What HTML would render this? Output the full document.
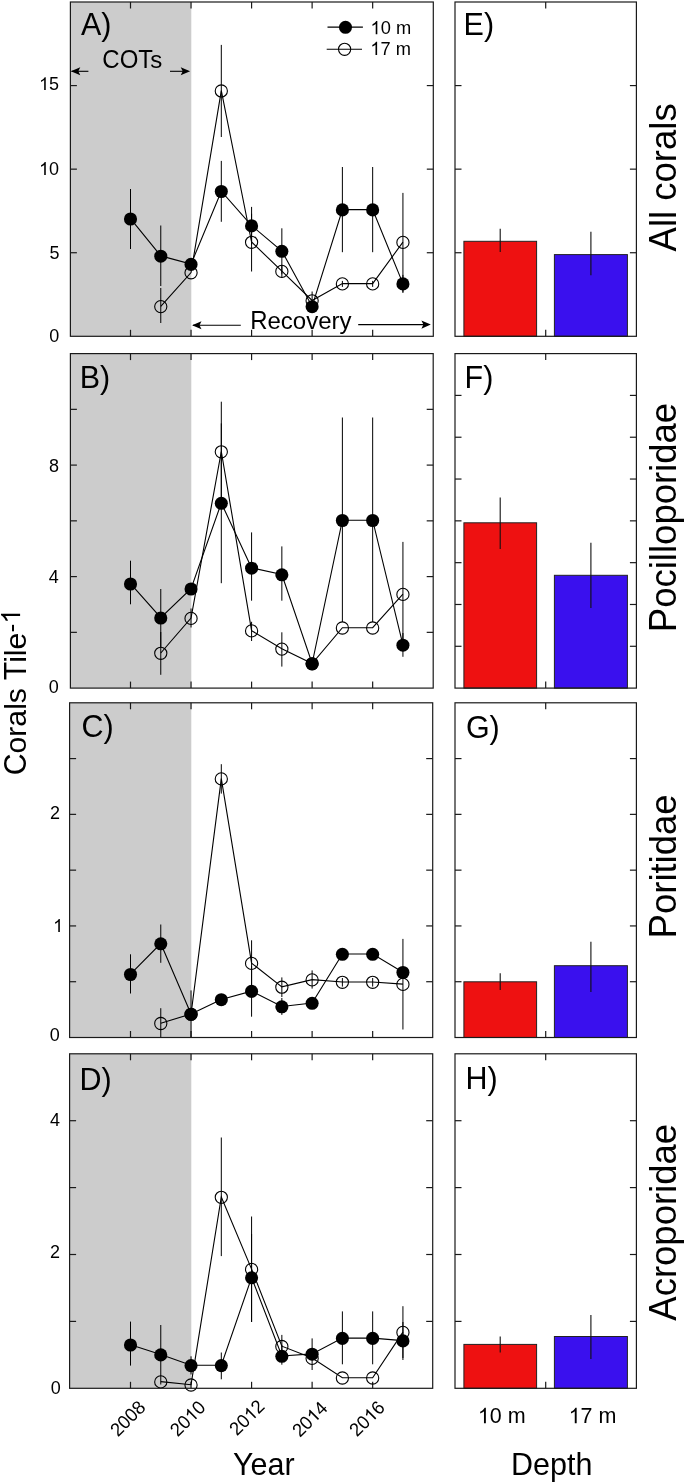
<!DOCTYPE html><html><head><meta charset="utf-8"><style>html,body{margin:0;padding:0;background:#fff;}svg{display:block;will-change:transform;} text{font-family:"Liberation Sans",sans-serif;fill:#000;font-kerning:none;}</style></head><body>
<svg width="685" height="1483" viewBox="0 0 685 1483">
<rect x="0" y="0" width="685" height="1483" fill="#fff"/>
<defs><path id="ah" d="M0,0 L9.4,-4.05 L7.4,0 L9.4,4.05 Z" fill="#000"/></defs>
<rect x="70.4" y="2" width="120.9" height="334.3" fill="#cccccc"/>
<line x1="70.4" y1="252.73" x2="76.9" y2="252.73" stroke="#1a1a1a" stroke-width="1.2"/>
<line x1="433.3" y1="252.73" x2="426.8" y2="252.73" stroke="#1a1a1a" stroke-width="1.2"/>
<line x1="70.4" y1="169.15" x2="76.9" y2="169.15" stroke="#1a1a1a" stroke-width="1.2"/>
<line x1="433.3" y1="169.15" x2="426.8" y2="169.15" stroke="#1a1a1a" stroke-width="1.2"/>
<line x1="70.4" y1="85.58" x2="76.9" y2="85.58" stroke="#1a1a1a" stroke-width="1.2"/>
<line x1="433.3" y1="85.58" x2="426.8" y2="85.58" stroke="#1a1a1a" stroke-width="1.2"/>
<g transform="translate(59.2,342.4)"><text transform="translate(-10.011,0) scale(1,1.035)" font-size="18">0</text></g>
<g transform="translate(59.4,258.8)"><text transform="translate(-10.011,0) scale(1,1.035)" font-size="18">5</text></g>
<g transform="translate(59.1,175)"><path d="M763 0H583V1147Q518 1085 412.5 1023T223 930V1104Q374 1175 487 1276T647 1472H763V0Z" transform="translate(-20.021,0) scale(0.008789,-0.008789)"/><text transform="translate(-10.011,0) scale(1,1.035)" font-size="18">0</text></g>
<g transform="translate(59.06,90.1)"><path d="M763 0H583V1147Q518 1085 412.5 1023T223 930V1104Q374 1175 487 1276T647 1472H763V0Z" transform="translate(-20.021,0) scale(0.008789,-0.008789)"/><text transform="translate(-10.011,0) scale(1,1.035)" font-size="18">5</text></g>
<line x1="130.5" y1="2" x2="130.5" y2="8.5" stroke="#1a1a1a" stroke-width="1.2"/>
<line x1="130.5" y1="336.3" x2="130.5" y2="329.8" stroke="#1a1a1a" stroke-width="1.2"/>
<line x1="191.04" y1="2" x2="191.04" y2="8.5" stroke="#1a1a1a" stroke-width="1.2"/>
<line x1="191.04" y1="336.3" x2="191.04" y2="329.8" stroke="#1a1a1a" stroke-width="1.2"/>
<line x1="251.58" y1="2" x2="251.58" y2="8.5" stroke="#1a1a1a" stroke-width="1.2"/>
<line x1="251.58" y1="336.3" x2="251.58" y2="329.8" stroke="#1a1a1a" stroke-width="1.2"/>
<line x1="312.12" y1="2" x2="312.12" y2="8.5" stroke="#1a1a1a" stroke-width="1.2"/>
<line x1="312.12" y1="336.3" x2="312.12" y2="329.8" stroke="#1a1a1a" stroke-width="1.2"/>
<line x1="372.66" y1="2" x2="372.66" y2="8.5" stroke="#1a1a1a" stroke-width="1.2"/>
<line x1="372.66" y1="336.3" x2="372.66" y2="329.8" stroke="#1a1a1a" stroke-width="1.2"/>
<line x1="160.77" y1="288" x2="160.77" y2="323" stroke="#000" stroke-width="1.0"/>
<line x1="221.31" y1="44.9" x2="221.31" y2="137" stroke="#000" stroke-width="1.0"/>
<line x1="251.58" y1="213.7" x2="251.58" y2="271.5" stroke="#000" stroke-width="1.0"/>
<line x1="281.85" y1="264.9" x2="281.85" y2="277.9" stroke="#000" stroke-width="1.0"/>
<line x1="312.12" y1="291.5" x2="312.12" y2="307" stroke="#000" stroke-width="1.0"/>
<line x1="342.39" y1="280.9" x2="342.39" y2="286.9" stroke="#000" stroke-width="1.0"/>
<line x1="372.66" y1="280.9" x2="372.66" y2="286.9" stroke="#000" stroke-width="1.0"/>
<line x1="402.93" y1="192.9" x2="402.93" y2="291.9" stroke="#000" stroke-width="1.0"/>
<line x1="130.5" y1="189" x2="130.5" y2="249" stroke="#000" stroke-width="1.0"/>
<line x1="160.77" y1="225.5" x2="160.77" y2="286" stroke="#000" stroke-width="1.0"/>
<line x1="221.31" y1="160.9" x2="221.31" y2="221.8" stroke="#000" stroke-width="1.0"/>
<line x1="251.58" y1="206.9" x2="251.58" y2="244.9" stroke="#000" stroke-width="1.0"/>
<line x1="281.85" y1="228.3" x2="281.85" y2="274.3" stroke="#000" stroke-width="1.0"/>
<line x1="342.39" y1="167" x2="342.39" y2="252.2" stroke="#000" stroke-width="1.0"/>
<line x1="372.66" y1="167" x2="372.66" y2="252.2" stroke="#000" stroke-width="1.0"/>
<line x1="402.93" y1="274.9" x2="402.93" y2="293" stroke="#000" stroke-width="1.0"/>
<polyline points="160.77,306.3 191.04,272.5 221.31,90.65 251.58,242 281.85,271.1 312.12,300.5 342.39,283.6 372.66,283.6 402.93,242.1" fill="none" stroke="#000" stroke-width="1.1"/>
<polyline points="130.5,218.7 160.77,255.9 191.04,264.1 221.31,191.2 251.58,225.6 281.85,251 312.12,306.4 342.39,209.6 372.66,209.6 402.93,283.6" fill="none" stroke="#000" stroke-width="1.1"/>
<circle cx="160.77" cy="306.6" r="6.1" fill="none" stroke="#000" stroke-width="1.1"/>
<circle cx="191.04" cy="272.8" r="6.1" fill="none" stroke="#000" stroke-width="1.1"/>
<circle cx="221.31" cy="90.95" r="6.1" fill="none" stroke="#000" stroke-width="1.1"/>
<circle cx="251.58" cy="242.3" r="6.1" fill="none" stroke="#000" stroke-width="1.1"/>
<circle cx="281.85" cy="271.4" r="6.1" fill="none" stroke="#000" stroke-width="1.1"/>
<circle cx="312.12" cy="300.8" r="6.1" fill="none" stroke="#000" stroke-width="1.1"/>
<circle cx="342.39" cy="283.9" r="6.1" fill="none" stroke="#000" stroke-width="1.1"/>
<circle cx="372.66" cy="283.9" r="6.1" fill="none" stroke="#000" stroke-width="1.1"/>
<circle cx="402.93" cy="242.4" r="6.1" fill="none" stroke="#000" stroke-width="1.1"/>
<circle cx="130.5" cy="219" r="6.55" fill="#000"/>
<circle cx="160.77" cy="256.2" r="6.55" fill="#000"/>
<circle cx="191.04" cy="264.4" r="6.55" fill="#000"/>
<circle cx="221.31" cy="191.5" r="6.55" fill="#000"/>
<circle cx="251.58" cy="225.9" r="6.55" fill="#000"/>
<circle cx="281.85" cy="251.3" r="6.55" fill="#000"/>
<circle cx="312.12" cy="306.7" r="6.55" fill="#000"/>
<circle cx="342.39" cy="209.9" r="6.55" fill="#000"/>
<circle cx="372.66" cy="209.9" r="6.55" fill="#000"/>
<circle cx="402.93" cy="283.9" r="6.55" fill="#000"/>
<rect x="70.4" y="2" width="362.9" height="334.3" fill="none" stroke="#1a1a1a" stroke-width="1.2"/>
<g transform="translate(80.9,34.8)"><text transform="translate(0.000,0) scale(1,1.0405)" font-size="30.5">A</text><text x="20.343" y="0" font-size="30.5">)</text></g>
<line x1="455" y1="252.73" x2="461.5" y2="252.73" stroke="#1a1a1a" stroke-width="1.2"/>
<line x1="636.4" y1="252.73" x2="629.9" y2="252.73" stroke="#1a1a1a" stroke-width="1.2"/>
<line x1="455" y1="169.15" x2="461.5" y2="169.15" stroke="#1a1a1a" stroke-width="1.2"/>
<line x1="636.4" y1="169.15" x2="629.9" y2="169.15" stroke="#1a1a1a" stroke-width="1.2"/>
<line x1="455" y1="85.58" x2="461.5" y2="85.58" stroke="#1a1a1a" stroke-width="1.2"/>
<line x1="636.4" y1="85.58" x2="629.9" y2="85.58" stroke="#1a1a1a" stroke-width="1.2"/>
<line x1="545.7" y1="2" x2="545.7" y2="8.5" stroke="#1a1a1a" stroke-width="1.2"/>
<line x1="545.7" y1="336.3" x2="545.7" y2="329.8" stroke="#1a1a1a" stroke-width="1.2"/>
<rect x="463.9" y="241.3" width="72.7" height="95" fill="#ee1111" stroke="#222" stroke-width="1"/>
<rect x="554.4" y="254.6" width="73.0" height="81.7" fill="#3a10ee" stroke="#222" stroke-width="1"/>
<line x1="500.2" y1="228.8" x2="500.2" y2="252" stroke="#111" stroke-width="1.1"/>
<line x1="590.9" y1="231.7" x2="590.9" y2="275.3" stroke="#111" stroke-width="1.1"/>
<rect x="455" y="2" width="181.4" height="334.3" fill="none" stroke="#1a1a1a" stroke-width="1.2"/>
<g transform="translate(463.6,34.8)"><text transform="translate(0.000,0) scale(1,1.0405)" font-size="30.5">E</text><text x="20.343" y="0" font-size="30.5">)</text></g>
<g transform="translate(676.1,177.4) rotate(-90)"><text transform="translate(-74.034,0) scale(1,1.0405)" font-size="36.5">A</text><text x="-49.688" y="0" font-size="36.5">l</text><text x="-41.579" y="0" font-size="36.5">l</text><text x="-23.329" y="0" font-size="36.5">c</text><text x="-5.079" y="0" font-size="36.5">o</text><text x="15.220" y="0" font-size="36.5">r</text><text x="27.375" y="0" font-size="36.5">a</text><text x="47.675" y="0" font-size="36.5">l</text><text x="55.784" y="0" font-size="36.5">s</text></g>
<rect x="70.4" y="353.6" width="120.9" height="334.5" fill="#cccccc"/>
<line x1="70.4" y1="576.6" x2="76.9" y2="576.6" stroke="#1a1a1a" stroke-width="1.2"/>
<line x1="433.2" y1="576.6" x2="426.7" y2="576.6" stroke="#1a1a1a" stroke-width="1.2"/>
<line x1="70.4" y1="465.1" x2="76.9" y2="465.1" stroke="#1a1a1a" stroke-width="1.2"/>
<line x1="433.2" y1="465.1" x2="426.7" y2="465.1" stroke="#1a1a1a" stroke-width="1.2"/>
<line x1="70.4" y1="632.35" x2="76.9" y2="632.35" stroke="#1a1a1a" stroke-width="1.2"/>
<line x1="433.2" y1="632.35" x2="426.7" y2="632.35" stroke="#1a1a1a" stroke-width="1.2"/>
<line x1="70.4" y1="520.85" x2="76.9" y2="520.85" stroke="#1a1a1a" stroke-width="1.2"/>
<line x1="433.2" y1="520.85" x2="426.7" y2="520.85" stroke="#1a1a1a" stroke-width="1.2"/>
<line x1="70.4" y1="409.35" x2="76.9" y2="409.35" stroke="#1a1a1a" stroke-width="1.2"/>
<line x1="433.2" y1="409.35" x2="426.7" y2="409.35" stroke="#1a1a1a" stroke-width="1.2"/>
<g transform="translate(58.8,692.7)"><text transform="translate(-10.011,0) scale(1,1.035)" font-size="18">0</text></g>
<g transform="translate(58.7,583.4)"><text transform="translate(-10.011,0) scale(1,1.035)" font-size="18">4</text></g>
<g transform="translate(59,471.5)"><text transform="translate(-10.011,0) scale(1,1.035)" font-size="18">8</text></g>
<line x1="130.5" y1="353.6" x2="130.5" y2="360.1" stroke="#1a1a1a" stroke-width="1.2"/>
<line x1="130.5" y1="688.1" x2="130.5" y2="681.6" stroke="#1a1a1a" stroke-width="1.2"/>
<line x1="191.04" y1="353.6" x2="191.04" y2="360.1" stroke="#1a1a1a" stroke-width="1.2"/>
<line x1="191.04" y1="688.1" x2="191.04" y2="681.6" stroke="#1a1a1a" stroke-width="1.2"/>
<line x1="251.58" y1="353.6" x2="251.58" y2="360.1" stroke="#1a1a1a" stroke-width="1.2"/>
<line x1="251.58" y1="688.1" x2="251.58" y2="681.6" stroke="#1a1a1a" stroke-width="1.2"/>
<line x1="312.12" y1="353.6" x2="312.12" y2="360.1" stroke="#1a1a1a" stroke-width="1.2"/>
<line x1="312.12" y1="688.1" x2="312.12" y2="681.6" stroke="#1a1a1a" stroke-width="1.2"/>
<line x1="372.66" y1="353.6" x2="372.66" y2="360.1" stroke="#1a1a1a" stroke-width="1.2"/>
<line x1="372.66" y1="688.1" x2="372.66" y2="681.6" stroke="#1a1a1a" stroke-width="1.2"/>
<line x1="160.77" y1="632" x2="160.77" y2="674.8" stroke="#000" stroke-width="1.0"/>
<line x1="191.04" y1="608.5" x2="191.04" y2="627.5" stroke="#000" stroke-width="1.0"/>
<line x1="221.31" y1="401.7" x2="221.31" y2="502" stroke="#000" stroke-width="1.0"/>
<line x1="251.58" y1="621.8" x2="251.58" y2="641" stroke="#000" stroke-width="1.0"/>
<line x1="281.85" y1="632.3" x2="281.85" y2="666.6" stroke="#000" stroke-width="1.0"/>
<line x1="402.93" y1="541.9" x2="402.93" y2="647" stroke="#000" stroke-width="1.0"/>
<line x1="130.5" y1="560.7" x2="130.5" y2="604.3" stroke="#000" stroke-width="1.0"/>
<line x1="160.77" y1="589" x2="160.77" y2="647" stroke="#000" stroke-width="1.0"/>
<line x1="221.31" y1="423.4" x2="221.31" y2="583.2" stroke="#000" stroke-width="1.0"/>
<line x1="251.58" y1="532.4" x2="251.58" y2="600.7" stroke="#000" stroke-width="1.0"/>
<line x1="281.85" y1="546.4" x2="281.85" y2="600.7" stroke="#000" stroke-width="1.0"/>
<line x1="342.39" y1="417.5" x2="342.39" y2="622" stroke="#000" stroke-width="1.0"/>
<line x1="372.66" y1="417.5" x2="372.66" y2="622" stroke="#000" stroke-width="1.0"/>
<line x1="402.93" y1="633" x2="402.93" y2="656.8" stroke="#000" stroke-width="1.0"/>
<polyline points="160.77,653 191.04,618.1 221.31,451.5 251.58,630.6 281.85,648.8 312.12,663.5 342.39,627.7 372.66,627.7 402.93,594.1" fill="none" stroke="#000" stroke-width="1.1"/>
<polyline points="130.5,583.7 160.77,617.7 191.04,588.7 221.31,503 251.58,567.9 281.85,574.5 312.12,663.5 342.39,520.2 372.66,520.2 402.93,644.9" fill="none" stroke="#000" stroke-width="1.1"/>
<circle cx="160.77" cy="653.3" r="6.1" fill="none" stroke="#000" stroke-width="1.1"/>
<circle cx="191.04" cy="618.4" r="6.1" fill="none" stroke="#000" stroke-width="1.1"/>
<circle cx="221.31" cy="451.8" r="6.1" fill="none" stroke="#000" stroke-width="1.1"/>
<circle cx="251.58" cy="630.9" r="6.1" fill="none" stroke="#000" stroke-width="1.1"/>
<circle cx="281.85" cy="649.1" r="6.1" fill="none" stroke="#000" stroke-width="1.1"/>
<circle cx="312.12" cy="663.8" r="6.1" fill="none" stroke="#000" stroke-width="1.1"/>
<circle cx="342.39" cy="628" r="6.1" fill="none" stroke="#000" stroke-width="1.1"/>
<circle cx="372.66" cy="628" r="6.1" fill="none" stroke="#000" stroke-width="1.1"/>
<circle cx="402.93" cy="594.4" r="6.1" fill="none" stroke="#000" stroke-width="1.1"/>
<circle cx="130.5" cy="584" r="6.55" fill="#000"/>
<circle cx="160.77" cy="618" r="6.55" fill="#000"/>
<circle cx="191.04" cy="589" r="6.55" fill="#000"/>
<circle cx="221.31" cy="503.3" r="6.55" fill="#000"/>
<circle cx="251.58" cy="568.2" r="6.55" fill="#000"/>
<circle cx="281.85" cy="574.8" r="6.55" fill="#000"/>
<circle cx="312.12" cy="663.8" r="6.55" fill="#000"/>
<circle cx="342.39" cy="520.5" r="6.55" fill="#000"/>
<circle cx="372.66" cy="520.5" r="6.55" fill="#000"/>
<circle cx="402.93" cy="645.2" r="6.55" fill="#000"/>
<rect x="70.4" y="353.6" width="362.8" height="334.5" fill="none" stroke="#1a1a1a" stroke-width="1.2"/>
<g transform="translate(79.7,387.9)"><text transform="translate(0.000,0) scale(1,1.0405)" font-size="30.5">B</text><text x="20.343" y="0" font-size="30.5">)</text></g>
<line x1="455" y1="646.29" x2="461.5" y2="646.29" stroke="#1a1a1a" stroke-width="1.2"/>
<line x1="636.4" y1="646.29" x2="629.9" y2="646.29" stroke="#1a1a1a" stroke-width="1.2"/>
<line x1="455" y1="604.48" x2="461.5" y2="604.48" stroke="#1a1a1a" stroke-width="1.2"/>
<line x1="636.4" y1="604.48" x2="629.9" y2="604.48" stroke="#1a1a1a" stroke-width="1.2"/>
<line x1="455" y1="562.66" x2="461.5" y2="562.66" stroke="#1a1a1a" stroke-width="1.2"/>
<line x1="636.4" y1="562.66" x2="629.9" y2="562.66" stroke="#1a1a1a" stroke-width="1.2"/>
<line x1="455" y1="520.85" x2="461.5" y2="520.85" stroke="#1a1a1a" stroke-width="1.2"/>
<line x1="636.4" y1="520.85" x2="629.9" y2="520.85" stroke="#1a1a1a" stroke-width="1.2"/>
<line x1="455" y1="479.04" x2="461.5" y2="479.04" stroke="#1a1a1a" stroke-width="1.2"/>
<line x1="636.4" y1="479.04" x2="629.9" y2="479.04" stroke="#1a1a1a" stroke-width="1.2"/>
<line x1="455" y1="437.23" x2="461.5" y2="437.23" stroke="#1a1a1a" stroke-width="1.2"/>
<line x1="636.4" y1="437.23" x2="629.9" y2="437.23" stroke="#1a1a1a" stroke-width="1.2"/>
<line x1="455" y1="395.41" x2="461.5" y2="395.41" stroke="#1a1a1a" stroke-width="1.2"/>
<line x1="636.4" y1="395.41" x2="629.9" y2="395.41" stroke="#1a1a1a" stroke-width="1.2"/>
<line x1="545.7" y1="353.6" x2="545.7" y2="360.1" stroke="#1a1a1a" stroke-width="1.2"/>
<line x1="545.7" y1="688.1" x2="545.7" y2="681.6" stroke="#1a1a1a" stroke-width="1.2"/>
<rect x="463.9" y="522.8" width="72.7" height="165.3" fill="#ee1111" stroke="#222" stroke-width="1"/>
<rect x="554.4" y="575.3" width="73.0" height="112.8" fill="#3a10ee" stroke="#222" stroke-width="1"/>
<line x1="500.2" y1="497.4" x2="500.2" y2="548.9" stroke="#111" stroke-width="1.1"/>
<line x1="590.9" y1="542.8" x2="590.9" y2="607.9" stroke="#111" stroke-width="1.1"/>
<rect x="455" y="353.6" width="181.4" height="334.5" fill="none" stroke="#1a1a1a" stroke-width="1.2"/>
<g transform="translate(464.5,387.8)"><text transform="translate(0.000,0) scale(1,1.0405)" font-size="30.5">F</text><text x="18.631" y="0" font-size="30.5">)</text></g>
<g transform="translate(676.1,517.5) rotate(-90)"><text transform="translate(-114.642,0) scale(1,1.0405)" font-size="36.5">P</text><text x="-90.297" y="0" font-size="36.5">o</text><text x="-69.997" y="0" font-size="36.5">c</text><text x="-51.747" y="0" font-size="36.5">i</text><text x="-43.638" y="0" font-size="36.5">l</text><text x="-35.529" y="0" font-size="36.5">l</text><text x="-27.420" y="0" font-size="36.5">o</text><text x="-7.120" y="0" font-size="36.5">p</text><text x="13.180" y="0" font-size="36.5">o</text><text x="33.479" y="0" font-size="36.5">r</text><text x="45.634" y="0" font-size="36.5">i</text><text x="53.743" y="0" font-size="36.5">d</text><text x="74.043" y="0" font-size="36.5">a</text><text x="94.342" y="0" font-size="36.5">e</text></g>
<rect x="69.6" y="702.8" width="121.7" height="334.7" fill="#cccccc"/>
<line x1="69.6" y1="925.93" x2="76.1" y2="925.93" stroke="#1a1a1a" stroke-width="1.2"/>
<line x1="432.7" y1="925.93" x2="426.2" y2="925.93" stroke="#1a1a1a" stroke-width="1.2"/>
<line x1="69.6" y1="814.37" x2="76.1" y2="814.37" stroke="#1a1a1a" stroke-width="1.2"/>
<line x1="432.7" y1="814.37" x2="426.2" y2="814.37" stroke="#1a1a1a" stroke-width="1.2"/>
<line x1="69.6" y1="981.72" x2="76.1" y2="981.72" stroke="#1a1a1a" stroke-width="1.2"/>
<line x1="432.7" y1="981.72" x2="426.2" y2="981.72" stroke="#1a1a1a" stroke-width="1.2"/>
<line x1="69.6" y1="870.15" x2="76.1" y2="870.15" stroke="#1a1a1a" stroke-width="1.2"/>
<line x1="432.7" y1="870.15" x2="426.2" y2="870.15" stroke="#1a1a1a" stroke-width="1.2"/>
<line x1="69.6" y1="758.58" x2="76.1" y2="758.58" stroke="#1a1a1a" stroke-width="1.2"/>
<line x1="432.7" y1="758.58" x2="426.2" y2="758.58" stroke="#1a1a1a" stroke-width="1.2"/>
<g transform="translate(59.7,1041.4)"><text transform="translate(-10.011,0) scale(1,1.035)" font-size="18">0</text></g>
<g transform="translate(63.15,931.9)"><path d="M763 0H583V1147Q518 1085 412.5 1023T223 930V1104Q374 1175 487 1276T647 1472H763V0Z" transform="translate(-10.011,0) scale(0.008789,-0.008789)"/></g>
<g transform="translate(59.9,818.9)"><text transform="translate(-10.011,0) scale(1,1.035)" font-size="18">2</text></g>
<line x1="130.5" y1="702.8" x2="130.5" y2="709.3" stroke="#1a1a1a" stroke-width="1.2"/>
<line x1="130.5" y1="1037.5" x2="130.5" y2="1031" stroke="#1a1a1a" stroke-width="1.2"/>
<line x1="191.04" y1="702.8" x2="191.04" y2="709.3" stroke="#1a1a1a" stroke-width="1.2"/>
<line x1="191.04" y1="1037.5" x2="191.04" y2="1031" stroke="#1a1a1a" stroke-width="1.2"/>
<line x1="251.58" y1="702.8" x2="251.58" y2="709.3" stroke="#1a1a1a" stroke-width="1.2"/>
<line x1="251.58" y1="1037.5" x2="251.58" y2="1031" stroke="#1a1a1a" stroke-width="1.2"/>
<line x1="312.12" y1="702.8" x2="312.12" y2="709.3" stroke="#1a1a1a" stroke-width="1.2"/>
<line x1="312.12" y1="1037.5" x2="312.12" y2="1031" stroke="#1a1a1a" stroke-width="1.2"/>
<line x1="372.66" y1="702.8" x2="372.66" y2="709.3" stroke="#1a1a1a" stroke-width="1.2"/>
<line x1="372.66" y1="1037.5" x2="372.66" y2="1031" stroke="#1a1a1a" stroke-width="1.2"/>
<line x1="160.77" y1="1008.2" x2="160.77" y2="1038" stroke="#000" stroke-width="1.0"/>
<line x1="221.31" y1="764.2" x2="221.31" y2="793.6" stroke="#000" stroke-width="1.0"/>
<line x1="251.58" y1="940.3" x2="251.58" y2="986.5" stroke="#000" stroke-width="1.0"/>
<line x1="281.85" y1="977.4" x2="281.85" y2="997" stroke="#000" stroke-width="1.0"/>
<line x1="312.12" y1="970.4" x2="312.12" y2="988.6" stroke="#000" stroke-width="1.0"/>
<line x1="342.39" y1="978" x2="342.39" y2="986.6" stroke="#000" stroke-width="1.0"/>
<line x1="372.66" y1="978" x2="372.66" y2="986.6" stroke="#000" stroke-width="1.0"/>
<line x1="402.93" y1="938.9" x2="402.93" y2="1029.5" stroke="#000" stroke-width="1.0"/>
<line x1="130.5" y1="954.3" x2="130.5" y2="993.5" stroke="#000" stroke-width="1.0"/>
<line x1="160.77" y1="924.5" x2="160.77" y2="962.8" stroke="#000" stroke-width="1.0"/>
<line x1="191.04" y1="990.4" x2="191.04" y2="1038" stroke="#000" stroke-width="1.0"/>
<line x1="251.58" y1="966" x2="251.58" y2="1016.7" stroke="#000" stroke-width="1.0"/>
<line x1="281.85" y1="998" x2="281.85" y2="1014.9" stroke="#000" stroke-width="1.0"/>
<polyline points="160.77,1023.2 191.04,1014 221.31,778.6 251.58,963.1 281.85,986.9 312.12,979.6 342.39,982 372.66,982 402.93,984.1" fill="none" stroke="#000" stroke-width="1.1"/>
<polyline points="130.5,974.2 160.77,943.5 191.04,1014 221.31,999.4 251.58,991.1 281.85,1006.5 312.12,1003 342.39,954 372.66,954 402.93,972.2" fill="none" stroke="#000" stroke-width="1.1"/>
<circle cx="160.77" cy="1023.5" r="6.1" fill="none" stroke="#000" stroke-width="1.1"/>
<circle cx="191.04" cy="1014.3" r="6.1" fill="none" stroke="#000" stroke-width="1.1"/>
<circle cx="221.31" cy="778.9" r="6.1" fill="none" stroke="#000" stroke-width="1.1"/>
<circle cx="251.58" cy="963.4" r="6.1" fill="none" stroke="#000" stroke-width="1.1"/>
<circle cx="281.85" cy="987.2" r="6.1" fill="none" stroke="#000" stroke-width="1.1"/>
<circle cx="312.12" cy="979.9" r="6.1" fill="none" stroke="#000" stroke-width="1.1"/>
<circle cx="342.39" cy="982.3" r="6.1" fill="none" stroke="#000" stroke-width="1.1"/>
<circle cx="372.66" cy="982.3" r="6.1" fill="none" stroke="#000" stroke-width="1.1"/>
<circle cx="402.93" cy="984.4" r="6.1" fill="none" stroke="#000" stroke-width="1.1"/>
<circle cx="130.5" cy="974.5" r="6.55" fill="#000"/>
<circle cx="160.77" cy="943.8" r="6.55" fill="#000"/>
<circle cx="191.04" cy="1014.3" r="6.55" fill="#000"/>
<circle cx="221.31" cy="999.7" r="6.55" fill="#000"/>
<circle cx="251.58" cy="991.4" r="6.55" fill="#000"/>
<circle cx="281.85" cy="1006.8" r="6.55" fill="#000"/>
<circle cx="312.12" cy="1003.3" r="6.55" fill="#000"/>
<circle cx="342.39" cy="954.3" r="6.55" fill="#000"/>
<circle cx="372.66" cy="954.3" r="6.55" fill="#000"/>
<circle cx="402.93" cy="972.5" r="6.55" fill="#000"/>
<rect x="69.6" y="702.8" width="363.1" height="334.7" fill="none" stroke="#1a1a1a" stroke-width="1.2"/>
<g transform="translate(81.4,737.3)"><text transform="translate(0.000,0) scale(1,1.0405)" font-size="30.5">C</text><text x="22.026" y="0" font-size="30.5">)</text></g>
<line x1="455" y1="981.72" x2="461.5" y2="981.72" stroke="#1a1a1a" stroke-width="1.2"/>
<line x1="636.4" y1="981.72" x2="629.9" y2="981.72" stroke="#1a1a1a" stroke-width="1.2"/>
<line x1="455" y1="925.93" x2="461.5" y2="925.93" stroke="#1a1a1a" stroke-width="1.2"/>
<line x1="636.4" y1="925.93" x2="629.9" y2="925.93" stroke="#1a1a1a" stroke-width="1.2"/>
<line x1="455" y1="870.15" x2="461.5" y2="870.15" stroke="#1a1a1a" stroke-width="1.2"/>
<line x1="636.4" y1="870.15" x2="629.9" y2="870.15" stroke="#1a1a1a" stroke-width="1.2"/>
<line x1="455" y1="814.37" x2="461.5" y2="814.37" stroke="#1a1a1a" stroke-width="1.2"/>
<line x1="636.4" y1="814.37" x2="629.9" y2="814.37" stroke="#1a1a1a" stroke-width="1.2"/>
<line x1="455" y1="758.58" x2="461.5" y2="758.58" stroke="#1a1a1a" stroke-width="1.2"/>
<line x1="636.4" y1="758.58" x2="629.9" y2="758.58" stroke="#1a1a1a" stroke-width="1.2"/>
<line x1="545.7" y1="702.8" x2="545.7" y2="709.3" stroke="#1a1a1a" stroke-width="1.2"/>
<line x1="545.7" y1="1037.5" x2="545.7" y2="1031" stroke="#1a1a1a" stroke-width="1.2"/>
<rect x="463.9" y="981.8" width="72.7" height="55.7" fill="#ee1111" stroke="#222" stroke-width="1"/>
<rect x="554.4" y="965.7" width="73.0" height="71.8" fill="#3a10ee" stroke="#222" stroke-width="1"/>
<line x1="500.2" y1="973.3" x2="500.2" y2="990" stroke="#111" stroke-width="1.1"/>
<line x1="590.9" y1="941.8" x2="590.9" y2="991.9" stroke="#111" stroke-width="1.1"/>
<rect x="455" y="702.8" width="181.4" height="334.7" fill="none" stroke="#1a1a1a" stroke-width="1.2"/>
<g transform="translate(465.9,737.6)"><text transform="translate(0.000,0) scale(1,1.0405)" font-size="30.5">G</text><text x="23.724" y="0" font-size="30.5">)</text></g>
<g transform="translate(676.1,866.4) rotate(-90)"><text transform="translate(-72.029,0) scale(1,1.0405)" font-size="36.5">P</text><text x="-47.683" y="0" font-size="36.5">o</text><text x="-27.384" y="0" font-size="36.5">r</text><text x="-15.229" y="0" font-size="36.5">i</text><text x="-7.120" y="0" font-size="36.5">t</text><text x="3.021" y="0" font-size="36.5">i</text><text x="11.130" y="0" font-size="36.5">d</text><text x="31.430" y="0" font-size="36.5">a</text><text x="51.729" y="0" font-size="36.5">e</text></g>
<rect x="69.6" y="1053.8" width="121.7" height="334.5" fill="#cccccc"/>
<line x1="69.6" y1="1254.5" x2="76.1" y2="1254.5" stroke="#1a1a1a" stroke-width="1.2"/>
<line x1="432.7" y1="1254.5" x2="426.2" y2="1254.5" stroke="#1a1a1a" stroke-width="1.2"/>
<line x1="69.6" y1="1120.7" x2="76.1" y2="1120.7" stroke="#1a1a1a" stroke-width="1.2"/>
<line x1="432.7" y1="1120.7" x2="426.2" y2="1120.7" stroke="#1a1a1a" stroke-width="1.2"/>
<line x1="69.6" y1="1321.4" x2="76.1" y2="1321.4" stroke="#1a1a1a" stroke-width="1.2"/>
<line x1="432.7" y1="1321.4" x2="426.2" y2="1321.4" stroke="#1a1a1a" stroke-width="1.2"/>
<line x1="69.6" y1="1187.6" x2="76.1" y2="1187.6" stroke="#1a1a1a" stroke-width="1.2"/>
<line x1="432.7" y1="1187.6" x2="426.2" y2="1187.6" stroke="#1a1a1a" stroke-width="1.2"/>
<g transform="translate(60.8,1393.9)"><text transform="translate(-10.011,0) scale(1,1.035)" font-size="18">0</text></g>
<g transform="translate(59.9,1257.7)"><text transform="translate(-10.011,0) scale(1,1.035)" font-size="18">2</text></g>
<g transform="translate(60.1,1125.9)"><text transform="translate(-10.011,0) scale(1,1.035)" font-size="18">4</text></g>
<line x1="130.5" y1="1053.8" x2="130.5" y2="1060.3" stroke="#1a1a1a" stroke-width="1.2"/>
<line x1="130.5" y1="1388.3" x2="130.5" y2="1381.8" stroke="#1a1a1a" stroke-width="1.2"/>
<line x1="191.04" y1="1053.8" x2="191.04" y2="1060.3" stroke="#1a1a1a" stroke-width="1.2"/>
<line x1="191.04" y1="1388.3" x2="191.04" y2="1381.8" stroke="#1a1a1a" stroke-width="1.2"/>
<line x1="251.58" y1="1053.8" x2="251.58" y2="1060.3" stroke="#1a1a1a" stroke-width="1.2"/>
<line x1="251.58" y1="1388.3" x2="251.58" y2="1381.8" stroke="#1a1a1a" stroke-width="1.2"/>
<line x1="312.12" y1="1053.8" x2="312.12" y2="1060.3" stroke="#1a1a1a" stroke-width="1.2"/>
<line x1="312.12" y1="1388.3" x2="312.12" y2="1381.8" stroke="#1a1a1a" stroke-width="1.2"/>
<line x1="372.66" y1="1053.8" x2="372.66" y2="1060.3" stroke="#1a1a1a" stroke-width="1.2"/>
<line x1="372.66" y1="1388.3" x2="372.66" y2="1381.8" stroke="#1a1a1a" stroke-width="1.2"/>
<line x1="221.31" y1="1137.5" x2="221.31" y2="1256.1" stroke="#000" stroke-width="1.0"/>
<line x1="251.58" y1="1216.5" x2="251.58" y2="1322" stroke="#000" stroke-width="1.0"/>
<line x1="281.85" y1="1334.9" x2="281.85" y2="1358" stroke="#000" stroke-width="1.0"/>
<line x1="402.93" y1="1306.2" x2="402.93" y2="1358" stroke="#000" stroke-width="1.0"/>
<line x1="130.5" y1="1321.6" x2="130.5" y2="1365.6" stroke="#000" stroke-width="1.0"/>
<line x1="160.77" y1="1325" x2="160.77" y2="1384.5" stroke="#000" stroke-width="1.0"/>
<line x1="191.04" y1="1356.3" x2="191.04" y2="1374.5" stroke="#000" stroke-width="1.0"/>
<line x1="221.31" y1="1352.5" x2="221.31" y2="1379.3" stroke="#000" stroke-width="1.0"/>
<line x1="251.58" y1="1234" x2="251.58" y2="1321.9" stroke="#000" stroke-width="1.0"/>
<line x1="281.85" y1="1345" x2="281.85" y2="1364.7" stroke="#000" stroke-width="1.0"/>
<line x1="312.12" y1="1338.4" x2="312.12" y2="1370" stroke="#000" stroke-width="1.0"/>
<line x1="342.39" y1="1311.4" x2="342.39" y2="1364.3" stroke="#000" stroke-width="1.0"/>
<line x1="372.66" y1="1311.4" x2="372.66" y2="1364.3" stroke="#000" stroke-width="1.0"/>
<line x1="402.93" y1="1322" x2="402.93" y2="1360" stroke="#000" stroke-width="1.0"/>
<polyline points="160.77,1381.6 191.04,1384.7 221.31,1197 251.58,1269.1 281.85,1346.2 312.12,1358.1 342.39,1377.7 372.66,1377.7 402.93,1332.1" fill="none" stroke="#000" stroke-width="1.1"/>
<polyline points="130.5,1344.7 160.77,1354.6 191.04,1365.3 221.31,1365.3 251.58,1277.5 281.85,1356 312.12,1353.9 342.39,1338.1 372.66,1338.1 402.93,1340.6" fill="none" stroke="#000" stroke-width="1.1"/>
<circle cx="160.77" cy="1381.9" r="6.1" fill="none" stroke="#000" stroke-width="1.1"/>
<circle cx="191.04" cy="1385" r="6.1" fill="none" stroke="#000" stroke-width="1.1"/>
<circle cx="221.31" cy="1197.3" r="6.1" fill="none" stroke="#000" stroke-width="1.1"/>
<circle cx="251.58" cy="1269.4" r="6.1" fill="none" stroke="#000" stroke-width="1.1"/>
<circle cx="281.85" cy="1346.5" r="6.1" fill="none" stroke="#000" stroke-width="1.1"/>
<circle cx="312.12" cy="1358.4" r="6.1" fill="none" stroke="#000" stroke-width="1.1"/>
<circle cx="342.39" cy="1378" r="6.1" fill="none" stroke="#000" stroke-width="1.1"/>
<circle cx="372.66" cy="1378" r="6.1" fill="none" stroke="#000" stroke-width="1.1"/>
<circle cx="402.93" cy="1332.4" r="6.1" fill="none" stroke="#000" stroke-width="1.1"/>
<circle cx="130.5" cy="1345" r="6.55" fill="#000"/>
<circle cx="160.77" cy="1354.9" r="6.55" fill="#000"/>
<circle cx="191.04" cy="1365.6" r="6.55" fill="#000"/>
<circle cx="221.31" cy="1365.6" r="6.55" fill="#000"/>
<circle cx="251.58" cy="1277.8" r="6.55" fill="#000"/>
<circle cx="281.85" cy="1356.3" r="6.55" fill="#000"/>
<circle cx="312.12" cy="1354.2" r="6.55" fill="#000"/>
<circle cx="342.39" cy="1338.4" r="6.55" fill="#000"/>
<circle cx="372.66" cy="1338.4" r="6.55" fill="#000"/>
<circle cx="402.93" cy="1340.9" r="6.55" fill="#000"/>
<rect x="69.6" y="1053.8" width="363.1" height="334.5" fill="none" stroke="#1a1a1a" stroke-width="1.2"/>
<g transform="translate(79.6,1089.5)"><text transform="translate(0.000,0) scale(1,1.0405)" font-size="30.5">D</text><text x="22.026" y="0" font-size="30.5">)</text></g>
<line x1="455" y1="1321.4" x2="461.5" y2="1321.4" stroke="#1a1a1a" stroke-width="1.2"/>
<line x1="636.4" y1="1321.4" x2="629.9" y2="1321.4" stroke="#1a1a1a" stroke-width="1.2"/>
<line x1="455" y1="1254.5" x2="461.5" y2="1254.5" stroke="#1a1a1a" stroke-width="1.2"/>
<line x1="636.4" y1="1254.5" x2="629.9" y2="1254.5" stroke="#1a1a1a" stroke-width="1.2"/>
<line x1="455" y1="1187.6" x2="461.5" y2="1187.6" stroke="#1a1a1a" stroke-width="1.2"/>
<line x1="636.4" y1="1187.6" x2="629.9" y2="1187.6" stroke="#1a1a1a" stroke-width="1.2"/>
<line x1="455" y1="1120.7" x2="461.5" y2="1120.7" stroke="#1a1a1a" stroke-width="1.2"/>
<line x1="636.4" y1="1120.7" x2="629.9" y2="1120.7" stroke="#1a1a1a" stroke-width="1.2"/>
<line x1="545.7" y1="1053.8" x2="545.7" y2="1060.3" stroke="#1a1a1a" stroke-width="1.2"/>
<line x1="545.7" y1="1388.3" x2="545.7" y2="1381.8" stroke="#1a1a1a" stroke-width="1.2"/>
<rect x="463.9" y="1344.4" width="72.7" height="43.9" fill="#ee1111" stroke="#222" stroke-width="1"/>
<rect x="554.4" y="1336.5" width="73.0" height="51.8" fill="#3a10ee" stroke="#222" stroke-width="1"/>
<line x1="500.2" y1="1336.5" x2="500.2" y2="1352.6" stroke="#111" stroke-width="1.1"/>
<line x1="590.9" y1="1315" x2="590.9" y2="1359" stroke="#111" stroke-width="1.1"/>
<rect x="455" y="1053.8" width="181.4" height="334.5" fill="none" stroke="#1a1a1a" stroke-width="1.2"/>
<g transform="translate(465.6,1088.7)"><text transform="translate(0.000,0) scale(1,1.0405)" font-size="30.5">H</text><text x="22.026" y="0" font-size="30.5">)</text></g>
<g transform="translate(676.1,1222.3) rotate(-90)"><text transform="translate(-98.406,0) scale(1,1.0405)" font-size="36.5">A</text><text x="-74.060" y="0" font-size="36.5">c</text><text x="-55.810" y="0" font-size="36.5">r</text><text x="-43.656" y="0" font-size="36.5">o</text><text x="-23.356" y="0" font-size="36.5">p</text><text x="-3.057" y="0" font-size="36.5">o</text><text x="17.243" y="0" font-size="36.5">r</text><text x="29.398" y="0" font-size="36.5">i</text><text x="37.507" y="0" font-size="36.5">d</text><text x="57.807" y="0" font-size="36.5">a</text><text x="78.106" y="0" font-size="36.5">e</text></g>
<g transform="translate(102.3,68)"><text transform="translate(0.000,0) scale(1,1.0405)" font-size="24">C</text><text transform="translate(17.332,0) scale(1,1.0405)" font-size="24">O</text><text transform="translate(36.000,0) scale(1,1.0405)" font-size="24">T</text><text x="48.000" y="0" font-size="24">s</text></g>
<line x1="71.6" y1="71.3" x2="88.4" y2="71.3" stroke="#000" stroke-width="1.1"/>
<use href="#ah" transform="translate(70.9,71.3)"/>
<line x1="170" y1="71.3" x2="188" y2="71.3" stroke="#000" stroke-width="1.1"/>
<use href="#ah" transform="translate(190.1,71.3) scale(-1,1)"/>
<g transform="translate(250.2,328.8)"><text transform="translate(0.000,0) scale(1,1.0405)" font-size="24">R</text><text x="17.332" y="0" font-size="24">e</text><text x="30.680" y="0" font-size="24">c</text><text x="42.680" y="0" font-size="24">o</text><text x="56.027" y="0" font-size="24">v</text><text x="68.027" y="0" font-size="24">e</text><text x="81.375" y="0" font-size="24">r</text><text x="89.367" y="0" font-size="24">y</text></g>
<line x1="193" y1="325.2" x2="240.8" y2="325.2" stroke="#000" stroke-width="1.1"/>
<use href="#ah" transform="translate(192.1,325.2)"/>
<line x1="358.2" y1="324.6" x2="428" y2="324.6" stroke="#000" stroke-width="1.1"/>
<use href="#ah" transform="translate(430.8,324.6) scale(-1,1)"/>
<line x1="327.5" y1="27.1" x2="362.9" y2="27.1" stroke="#000" stroke-width="1.1"/>
<circle cx="345.5" cy="27.3" r="6.55" fill="#000"/>
<g transform="translate(370.5,34.2)"><path d="M763 0H583V1147Q518 1085 412.5 1023T223 930V1104Q374 1175 487 1276T647 1472H763V0Z" transform="translate(0.000,0) scale(0.008936,-0.008936)"/><text transform="translate(10.178,0) scale(1,1.035)" font-size="18.3">0</text><text x="25.440" y="0" font-size="18.3">m</text></g>
<line x1="326.7" y1="49.2" x2="362" y2="49.2" stroke="#000" stroke-width="1.1"/>
<circle cx="344.6" cy="49.3" r="6.1" fill="none" stroke="#000" stroke-width="1.1"/>
<g transform="translate(370.3,54.9)"><path d="M763 0H583V1147Q518 1085 412.5 1023T223 930V1104Q374 1175 487 1276T647 1472H763V0Z" transform="translate(0.000,0) scale(0.008936,-0.008936)"/><text transform="translate(10.178,0) scale(1,1.035)" font-size="18.3">7</text><text x="25.440" y="0" font-size="18.3">m</text></g>
<g transform="translate(146.7,1408.6) rotate(-45)"><text transform="translate(-40.710,0) scale(1,1.035)" font-size="18.3">2</text><text transform="translate(-30.533,0) scale(1,1.035)" font-size="18.3">0</text><text transform="translate(-20.355,0) scale(1,1.035)" font-size="18.3">0</text><text transform="translate(-10.178,0) scale(1,1.035)" font-size="18.3">8</text></g>
<g transform="translate(206.64,1408.6) rotate(-45)"><text transform="translate(-40.710,0) scale(1,1.035)" font-size="18.3">2</text><text transform="translate(-30.533,0) scale(1,1.035)" font-size="18.3">0</text><path d="M763 0H583V1147Q518 1085 412.5 1023T223 930V1104Q374 1175 487 1276T647 1472H763V0Z" transform="translate(-20.355,0) scale(0.008936,-0.008936)"/><text transform="translate(-10.178,0) scale(1,1.035)" font-size="18.3">0</text></g>
<g transform="translate(265.78,1407.6) rotate(-45)"><text transform="translate(-40.710,0) scale(1,1.035)" font-size="18.3">2</text><text transform="translate(-30.533,0) scale(1,1.035)" font-size="18.3">0</text><path d="M763 0H583V1147Q518 1085 412.5 1023T223 930V1104Q374 1175 487 1276T647 1472H763V0Z" transform="translate(-20.355,0) scale(0.008936,-0.008936)"/><text transform="translate(-10.178,0) scale(1,1.035)" font-size="18.3">2</text></g>
<g transform="translate(328.67,1409.3) rotate(-45)"><text transform="translate(-40.710,0) scale(1,1.035)" font-size="18.3">2</text><text transform="translate(-30.533,0) scale(1,1.035)" font-size="18.3">0</text><path d="M763 0H583V1147Q518 1085 412.5 1023T223 930V1104Q374 1175 487 1276T647 1472H763V0Z" transform="translate(-20.355,0) scale(0.008936,-0.008936)"/><text transform="translate(-10.178,0) scale(1,1.035)" font-size="18.3">4</text></g>
<g transform="translate(385.86,1408.8) rotate(-45)"><text transform="translate(-40.710,0) scale(1,1.035)" font-size="18.3">2</text><text transform="translate(-30.533,0) scale(1,1.035)" font-size="18.3">0</text><path d="M763 0H583V1147Q518 1085 412.5 1023T223 930V1104Q374 1175 487 1276T647 1472H763V0Z" transform="translate(-20.355,0) scale(0.008936,-0.008936)"/><text transform="translate(-10.178,0) scale(1,1.035)" font-size="18.3">6</text></g>
<g transform="translate(263.8,1474.7)"><text transform="translate(-30.813,0) scale(1,1.0405)" font-size="30.5">Y</text><text x="-13.269" y="0" font-size="30.5">e</text><text x="3.693" y="0" font-size="30.5">a</text><text x="20.656" y="0" font-size="30.5">r</text></g>
<g transform="translate(551.7,1475.2)"><text transform="translate(-40.694,0) scale(1,1.0405)" font-size="30.5">D</text><text x="-18.668" y="0" font-size="30.5">e</text><text x="-1.705" y="0" font-size="30.5">p</text><text x="15.257" y="0" font-size="30.5">t</text><text x="23.731" y="0" font-size="30.5">h</text></g>
<g transform="translate(501.75,1423.3)"><path d="M763 0H583V1147Q518 1085 412.5 1023T223 930V1104Q374 1175 487 1276T647 1472H763V0Z" transform="translate(-23.899,0) scale(0.010498,-0.010498)"/><text transform="translate(-11.942,0) scale(1,1.035)" font-size="21.5">0</text><text x="5.989" y="0" font-size="21.5">m</text></g>
<g transform="translate(592.55,1423.3)"><path d="M763 0H583V1147Q518 1085 412.5 1023T223 930V1104Q374 1175 487 1276T647 1472H763V0Z" transform="translate(-23.899,0) scale(0.010498,-0.010498)"/><text transform="translate(-11.942,0) scale(1,1.035)" font-size="21.5">7</text><text x="5.989" y="0" font-size="21.5">m</text></g>
<g transform="translate(26.3,775.3) rotate(-90)"><text transform="translate(0.000,0) scale(1,1.0405)" font-size="30.2">C</text><text x="21.809" y="0" font-size="30.2">o</text><text x="38.605" y="0" font-size="30.2">r</text><text x="48.662" y="0" font-size="30.2">a</text><text x="65.458" y="0" font-size="30.2">l</text><text x="72.167" y="0" font-size="30.2">s</text><text transform="translate(95.112,0) scale(1,1.0405)" font-size="30.2">T</text><text x="112.439" y="0" font-size="30.2">i</text><text x="119.148" y="0" font-size="30.2">l</text><text x="125.858" y="0" font-size="30.2">e</text></g>
<g transform="translate(26.3,775.3) rotate(-90) translate(142.76,-6.2)"><text x="0.000" y="0" font-size="26.6">-</text><path d="M763 0H583V1147Q518 1085 412.5 1023T223 930V1104Q374 1175 487 1276T647 1472H763V0Z" transform="translate(8.858,0) scale(0.012988,-0.012988)"/></g>
</svg></body></html>
